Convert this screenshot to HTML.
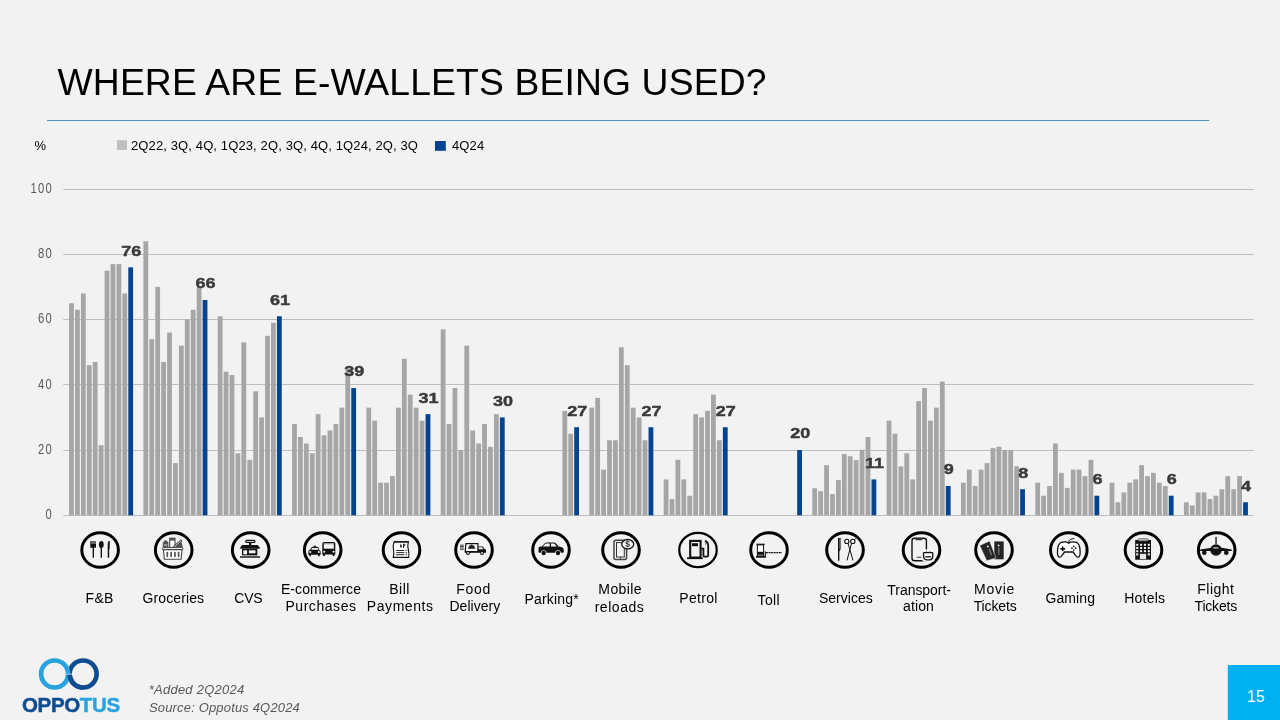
<!DOCTYPE html>
<html><head><meta charset="utf-8"><title>Where are e-wallets being used?</title>
<style>
html,body{margin:0;padding:0;background:#F2F2F2;}
body{width:1280px;height:720px;overflow:hidden;}
svg{display:block;will-change:transform;}
text{font-family:"Liberation Sans",Arial,sans-serif;}
.ax{font-size:14px;fill:#595959;letter-spacing:1.6px;}
.dl{font-size:15.4px;font-weight:bold;fill:#3A3A3A;stroke:#3A3A3A;stroke-width:0.45px;}
.cl{font-size:14px;fill:#000;letter-spacing:0.22px;}
.lg{font-size:13px;fill:#000;letter-spacing:0.12px;}
</style></head>
<body>
<svg width="1280" height="720" viewBox="0 0 1280 720">
<rect x="0" y="0" width="1280" height="720" fill="#F2F2F2"/>
<text x="57.5" y="95.3" font-size="37.3" letter-spacing="0.12" fill="#000">WHERE ARE E-WALLETS BEING USED?</text>
<line x1="47" y1="120.5" x2="1209.2" y2="120.5" stroke="#4C97C2" stroke-width="1"/>
<text x="34.5" y="149.8" class="lg">%</text>
<rect x="117" y="140.2" width="10" height="9.8" fill="#BFBFBF"/>
<text x="131" y="149.7" class="lg">2Q22, 3Q, 4Q, 1Q23, 2Q, 3Q, 4Q, 1Q24, 2Q, 3Q</text>
<rect x="435" y="141" width="10.8" height="9.8" fill="#03438F"/>
<text x="452" y="149.7" class="lg">4Q24</text>
<line x1="63.3" y1="515.5" x2="1253.9" y2="515.5" stroke="#BEBEBE" stroke-width="1"/>
<text transform="translate(52.9,519.1) scale(0.8,1)" class="ax" text-anchor="end">0</text>
<line x1="63.3" y1="450.5" x2="1253.9" y2="450.5" stroke="#BEBEBE" stroke-width="1"/>
<text transform="translate(52.9,453.85) scale(0.8,1)" class="ax" text-anchor="end">20</text>
<line x1="63.3" y1="384.5" x2="1253.9" y2="384.5" stroke="#BEBEBE" stroke-width="1"/>
<text transform="translate(52.9,388.6) scale(0.8,1)" class="ax" text-anchor="end">40</text>
<line x1="63.3" y1="319.5" x2="1253.9" y2="319.5" stroke="#BEBEBE" stroke-width="1"/>
<text transform="translate(52.9,323.35) scale(0.8,1)" class="ax" text-anchor="end">60</text>
<line x1="63.3" y1="254.5" x2="1253.9" y2="254.5" stroke="#BEBEBE" stroke-width="1"/>
<text transform="translate(52.9,258.1) scale(0.8,1)" class="ax" text-anchor="end">80</text>
<line x1="63.3" y1="189.5" x2="1253.9" y2="189.5" stroke="#BEBEBE" stroke-width="1"/>
<text transform="translate(52.9,192.85) scale(0.8,1)" class="ax" text-anchor="end">100</text>
<rect x="69.1" y="303.24" width="4.8" height="212.06" fill="#A6A6A6"/>
<rect x="75.02" y="309.76" width="4.8" height="205.54" fill="#A6A6A6"/>
<rect x="80.94" y="293.45" width="4.8" height="221.85" fill="#A6A6A6"/>
<rect x="86.86" y="365.22" width="4.8" height="150.08" fill="#A6A6A6"/>
<rect x="92.78" y="361.96" width="4.8" height="153.34" fill="#A6A6A6"/>
<rect x="98.7" y="445.16" width="4.8" height="70.14" fill="#A6A6A6"/>
<rect x="104.62" y="270.61" width="4.8" height="244.69" fill="#A6A6A6"/>
<rect x="110.54" y="264.09" width="4.8" height="251.21" fill="#A6A6A6"/>
<rect x="116.46" y="264.09" width="4.8" height="251.21" fill="#A6A6A6"/>
<rect x="122.38" y="293.45" width="4.8" height="221.85" fill="#A6A6A6"/>
<rect x="128.3" y="267.35" width="4.8" height="247.95" fill="#03438F"/>
<text transform="translate(131.3,255.75) scale(1.17,1)" class="dl" text-anchor="middle">76</text>
<rect x="143.42" y="241.25" width="4.8" height="274.05" fill="#A6A6A6"/>
<rect x="149.34" y="339.12" width="4.8" height="176.18" fill="#A6A6A6"/>
<rect x="155.26" y="286.92" width="4.8" height="228.38" fill="#A6A6A6"/>
<rect x="161.18" y="361.96" width="4.8" height="153.34" fill="#A6A6A6"/>
<rect x="167.1" y="332.6" width="4.8" height="182.7" fill="#A6A6A6"/>
<rect x="173.02" y="463.1" width="4.8" height="52.2" fill="#A6A6A6"/>
<rect x="178.94" y="345.65" width="4.8" height="169.65" fill="#A6A6A6"/>
<rect x="184.86" y="319.55" width="4.8" height="195.75" fill="#A6A6A6"/>
<rect x="190.78" y="309.76" width="4.8" height="205.54" fill="#A6A6A6"/>
<rect x="196.7" y="286.92" width="4.8" height="228.38" fill="#A6A6A6"/>
<rect x="202.62" y="299.97" width="4.8" height="215.33" fill="#03438F"/>
<text transform="translate(205.62,288.37) scale(1.17,1)" class="dl" text-anchor="middle">66</text>
<rect x="217.74" y="316.29" width="4.8" height="199.01" fill="#A6A6A6"/>
<rect x="223.66" y="371.75" width="4.8" height="143.55" fill="#A6A6A6"/>
<rect x="229.58" y="375.01" width="4.8" height="140.29" fill="#A6A6A6"/>
<rect x="235.5" y="453.31" width="4.8" height="61.99" fill="#A6A6A6"/>
<rect x="241.42" y="342.39" width="4.8" height="172.91" fill="#A6A6A6"/>
<rect x="247.34" y="459.84" width="4.8" height="55.46" fill="#A6A6A6"/>
<rect x="253.26" y="391.32" width="4.8" height="123.98" fill="#A6A6A6"/>
<rect x="259.18" y="417.42" width="4.8" height="97.88" fill="#A6A6A6"/>
<rect x="265.1" y="335.86" width="4.8" height="179.44" fill="#A6A6A6"/>
<rect x="271.02" y="322.81" width="4.8" height="192.49" fill="#A6A6A6"/>
<rect x="276.94" y="316.29" width="4.8" height="199.01" fill="#03438F"/>
<text transform="translate(279.94,304.69) scale(1.17,1)" class="dl" text-anchor="middle">61</text>
<rect x="292.06" y="423.95" width="4.8" height="91.35" fill="#A6A6A6"/>
<rect x="297.98" y="437" width="4.8" height="78.3" fill="#A6A6A6"/>
<rect x="303.9" y="443.52" width="4.8" height="71.78" fill="#A6A6A6"/>
<rect x="309.82" y="453.31" width="4.8" height="61.99" fill="#A6A6A6"/>
<rect x="315.74" y="414.16" width="4.8" height="101.14" fill="#A6A6A6"/>
<rect x="321.66" y="435.37" width="4.8" height="79.93" fill="#A6A6A6"/>
<rect x="327.58" y="430.47" width="4.8" height="84.83" fill="#A6A6A6"/>
<rect x="333.5" y="423.95" width="4.8" height="91.35" fill="#A6A6A6"/>
<rect x="339.42" y="407.64" width="4.8" height="107.66" fill="#A6A6A6"/>
<rect x="345.34" y="368.49" width="4.8" height="146.81" fill="#A6A6A6"/>
<rect x="351.26" y="388.06" width="4.8" height="127.24" fill="#03438F"/>
<text transform="translate(354.26,376.46) scale(1.17,1)" class="dl" text-anchor="middle">39</text>
<rect x="366.38" y="407.64" width="4.8" height="107.66" fill="#A6A6A6"/>
<rect x="372.3" y="420.69" width="4.8" height="94.61" fill="#A6A6A6"/>
<rect x="378.22" y="482.67" width="4.8" height="32.62" fill="#A6A6A6"/>
<rect x="384.14" y="482.67" width="4.8" height="32.62" fill="#A6A6A6"/>
<rect x="390.06" y="476.15" width="4.8" height="39.15" fill="#A6A6A6"/>
<rect x="395.98" y="407.64" width="4.8" height="107.66" fill="#A6A6A6"/>
<rect x="401.9" y="358.7" width="4.8" height="156.6" fill="#A6A6A6"/>
<rect x="407.82" y="394.59" width="4.8" height="120.71" fill="#A6A6A6"/>
<rect x="413.74" y="407.64" width="4.8" height="107.66" fill="#A6A6A6"/>
<rect x="419.66" y="420.69" width="4.8" height="94.61" fill="#A6A6A6"/>
<rect x="425.58" y="414.16" width="4.8" height="101.14" fill="#03438F"/>
<text transform="translate(428.58,402.56) scale(1.17,1)" class="dl" text-anchor="middle">31</text>
<rect x="440.7" y="329.34" width="4.8" height="185.96" fill="#A6A6A6"/>
<rect x="446.62" y="423.95" width="4.8" height="91.35" fill="#A6A6A6"/>
<rect x="452.54" y="388.06" width="4.8" height="127.24" fill="#A6A6A6"/>
<rect x="458.46" y="450.05" width="4.8" height="65.25" fill="#A6A6A6"/>
<rect x="464.38" y="345.65" width="4.8" height="169.65" fill="#A6A6A6"/>
<rect x="470.3" y="430.47" width="4.8" height="84.83" fill="#A6A6A6"/>
<rect x="476.22" y="443.52" width="4.8" height="71.78" fill="#A6A6A6"/>
<rect x="482.14" y="423.95" width="4.8" height="91.35" fill="#A6A6A6"/>
<rect x="488.06" y="446.79" width="4.8" height="68.51" fill="#A6A6A6"/>
<rect x="493.98" y="414.16" width="4.8" height="101.14" fill="#A6A6A6"/>
<rect x="499.9" y="417.42" width="4.8" height="97.88" fill="#03438F"/>
<text transform="translate(502.9,405.82) scale(1.17,1)" class="dl" text-anchor="middle">30</text>
<rect x="562.38" y="410.9" width="4.8" height="104.4" fill="#A6A6A6"/>
<rect x="568.3" y="433.74" width="4.8" height="81.56" fill="#A6A6A6"/>
<rect x="574.22" y="427.21" width="4.8" height="88.09" fill="#03438F"/>
<text transform="translate(577.22,415.61) scale(1.17,1)" class="dl" text-anchor="middle">27</text>
<rect x="589.34" y="407.64" width="4.8" height="107.66" fill="#A6A6A6"/>
<rect x="595.26" y="397.85" width="4.8" height="117.45" fill="#A6A6A6"/>
<rect x="601.18" y="469.62" width="4.8" height="45.68" fill="#A6A6A6"/>
<rect x="607.1" y="440.26" width="4.8" height="75.04" fill="#A6A6A6"/>
<rect x="613.02" y="440.26" width="4.8" height="75.04" fill="#A6A6A6"/>
<rect x="618.94" y="347.28" width="4.8" height="168.02" fill="#A6A6A6"/>
<rect x="624.86" y="365.22" width="4.8" height="150.08" fill="#A6A6A6"/>
<rect x="630.78" y="407.64" width="4.8" height="107.66" fill="#A6A6A6"/>
<rect x="636.7" y="417.42" width="4.8" height="97.88" fill="#A6A6A6"/>
<rect x="642.62" y="440.26" width="4.8" height="75.04" fill="#A6A6A6"/>
<rect x="648.54" y="427.21" width="4.8" height="88.09" fill="#03438F"/>
<text transform="translate(651.54,415.61) scale(1.17,1)" class="dl" text-anchor="middle">27</text>
<rect x="663.66" y="479.41" width="4.8" height="35.89" fill="#A6A6A6"/>
<rect x="669.58" y="498.99" width="4.8" height="16.31" fill="#A6A6A6"/>
<rect x="675.5" y="459.84" width="4.8" height="55.46" fill="#A6A6A6"/>
<rect x="681.42" y="479.41" width="4.8" height="35.89" fill="#A6A6A6"/>
<rect x="687.34" y="495.72" width="4.8" height="19.58" fill="#A6A6A6"/>
<rect x="693.26" y="414.16" width="4.8" height="101.14" fill="#A6A6A6"/>
<rect x="699.18" y="417.42" width="4.8" height="97.88" fill="#A6A6A6"/>
<rect x="705.1" y="410.9" width="4.8" height="104.4" fill="#A6A6A6"/>
<rect x="711.02" y="394.59" width="4.8" height="120.71" fill="#A6A6A6"/>
<rect x="716.94" y="440.26" width="4.8" height="75.04" fill="#A6A6A6"/>
<rect x="722.86" y="427.21" width="4.8" height="88.09" fill="#03438F"/>
<text transform="translate(725.86,415.61) scale(1.17,1)" class="dl" text-anchor="middle">27</text>
<rect x="797.18" y="450.05" width="4.8" height="65.25" fill="#03438F"/>
<text transform="translate(800.18,438.45) scale(1.17,1)" class="dl" text-anchor="middle">20</text>
<rect x="812.3" y="488.22" width="4.8" height="27.08" fill="#A6A6A6"/>
<rect x="818.22" y="491.16" width="4.8" height="24.14" fill="#A6A6A6"/>
<rect x="824.14" y="465.06" width="4.8" height="50.24" fill="#A6A6A6"/>
<rect x="830.06" y="494.09" width="4.8" height="21.21" fill="#A6A6A6"/>
<rect x="835.98" y="480.06" width="4.8" height="35.24" fill="#A6A6A6"/>
<rect x="841.9" y="453.96" width="4.8" height="61.34" fill="#A6A6A6"/>
<rect x="847.82" y="456.25" width="4.8" height="59.05" fill="#A6A6A6"/>
<rect x="853.74" y="460.16" width="4.8" height="55.14" fill="#A6A6A6"/>
<rect x="859.66" y="449.72" width="4.8" height="65.58" fill="#A6A6A6"/>
<rect x="865.58" y="437" width="4.8" height="78.3" fill="#A6A6A6"/>
<rect x="871.5" y="479.41" width="4.8" height="35.89" fill="#03438F"/>
<text transform="translate(874.5,467.81) scale(1.17,1)" class="dl" text-anchor="middle">11</text>
<rect x="886.62" y="420.69" width="4.8" height="94.61" fill="#A6A6A6"/>
<rect x="892.54" y="433.74" width="4.8" height="81.56" fill="#A6A6A6"/>
<rect x="898.46" y="466.36" width="4.8" height="48.94" fill="#A6A6A6"/>
<rect x="904.38" y="453.31" width="4.8" height="61.99" fill="#A6A6A6"/>
<rect x="910.3" y="479.41" width="4.8" height="35.89" fill="#A6A6A6"/>
<rect x="916.22" y="401.11" width="4.8" height="114.19" fill="#A6A6A6"/>
<rect x="922.14" y="388.06" width="4.8" height="127.24" fill="#A6A6A6"/>
<rect x="928.06" y="420.69" width="4.8" height="94.61" fill="#A6A6A6"/>
<rect x="933.98" y="407.64" width="4.8" height="107.66" fill="#A6A6A6"/>
<rect x="939.9" y="381.54" width="4.8" height="133.76" fill="#A6A6A6"/>
<rect x="945.82" y="485.94" width="4.8" height="29.36" fill="#03438F"/>
<text transform="translate(948.82,474.34) scale(1.17,1)" class="dl" text-anchor="middle">9</text>
<rect x="960.94" y="482.67" width="4.8" height="32.62" fill="#A6A6A6"/>
<rect x="966.86" y="469.62" width="4.8" height="45.68" fill="#A6A6A6"/>
<rect x="972.78" y="485.94" width="4.8" height="29.36" fill="#A6A6A6"/>
<rect x="978.7" y="469.62" width="4.8" height="45.68" fill="#A6A6A6"/>
<rect x="984.62" y="463.1" width="4.8" height="52.2" fill="#A6A6A6"/>
<rect x="990.54" y="448.09" width="4.8" height="67.21" fill="#A6A6A6"/>
<rect x="996.46" y="446.79" width="4.8" height="68.51" fill="#A6A6A6"/>
<rect x="1002.38" y="450.05" width="4.8" height="65.25" fill="#A6A6A6"/>
<rect x="1008.3" y="450.05" width="4.8" height="65.25" fill="#A6A6A6"/>
<rect x="1014.22" y="466.36" width="4.8" height="48.94" fill="#A6A6A6"/>
<rect x="1020.14" y="489.2" width="4.8" height="26.1" fill="#03438F"/>
<text transform="translate(1023.14,477.6) scale(1.17,1)" class="dl" text-anchor="middle">8</text>
<rect x="1035.26" y="482.67" width="4.8" height="32.62" fill="#A6A6A6"/>
<rect x="1041.18" y="495.72" width="4.8" height="19.58" fill="#A6A6A6"/>
<rect x="1047.1" y="485.94" width="4.8" height="29.36" fill="#A6A6A6"/>
<rect x="1053.02" y="443.52" width="4.8" height="71.78" fill="#A6A6A6"/>
<rect x="1058.94" y="472.89" width="4.8" height="42.41" fill="#A6A6A6"/>
<rect x="1064.86" y="487.89" width="4.8" height="27.41" fill="#A6A6A6"/>
<rect x="1070.78" y="469.62" width="4.8" height="45.68" fill="#A6A6A6"/>
<rect x="1076.7" y="469.62" width="4.8" height="45.68" fill="#A6A6A6"/>
<rect x="1082.62" y="476.15" width="4.8" height="39.15" fill="#A6A6A6"/>
<rect x="1088.54" y="459.84" width="4.8" height="55.46" fill="#A6A6A6"/>
<rect x="1094.46" y="495.72" width="4.8" height="19.58" fill="#03438F"/>
<text transform="translate(1097.46,484.12) scale(1.17,1)" class="dl" text-anchor="middle">6</text>
<rect x="1109.58" y="482.67" width="4.8" height="32.62" fill="#A6A6A6"/>
<rect x="1115.5" y="502.25" width="4.8" height="13.05" fill="#A6A6A6"/>
<rect x="1121.42" y="492.46" width="4.8" height="22.84" fill="#A6A6A6"/>
<rect x="1127.34" y="482.67" width="4.8" height="32.62" fill="#A6A6A6"/>
<rect x="1133.26" y="479.41" width="4.8" height="35.89" fill="#A6A6A6"/>
<rect x="1139.18" y="465.06" width="4.8" height="50.24" fill="#A6A6A6"/>
<rect x="1145.1" y="476.15" width="4.8" height="39.15" fill="#A6A6A6"/>
<rect x="1151.02" y="472.89" width="4.8" height="42.41" fill="#A6A6A6"/>
<rect x="1156.94" y="482.67" width="4.8" height="32.62" fill="#A6A6A6"/>
<rect x="1162.86" y="485.94" width="4.8" height="29.36" fill="#A6A6A6"/>
<rect x="1168.78" y="495.72" width="4.8" height="19.58" fill="#03438F"/>
<text transform="translate(1171.78,484.12) scale(1.17,1)" class="dl" text-anchor="middle">6</text>
<rect x="1183.9" y="502.25" width="4.8" height="13.05" fill="#A6A6A6"/>
<rect x="1189.82" y="505.51" width="4.8" height="9.79" fill="#A6A6A6"/>
<rect x="1195.74" y="492.46" width="4.8" height="22.84" fill="#A6A6A6"/>
<rect x="1201.66" y="492.46" width="4.8" height="22.84" fill="#A6A6A6"/>
<rect x="1207.58" y="498.99" width="4.8" height="16.31" fill="#A6A6A6"/>
<rect x="1213.5" y="495.72" width="4.8" height="19.58" fill="#A6A6A6"/>
<rect x="1219.42" y="489.2" width="4.8" height="26.1" fill="#A6A6A6"/>
<rect x="1225.34" y="476.15" width="4.8" height="39.15" fill="#A6A6A6"/>
<rect x="1231.26" y="489.2" width="4.8" height="26.1" fill="#A6A6A6"/>
<rect x="1237.18" y="476.15" width="4.8" height="39.15" fill="#A6A6A6"/>
<rect x="1243.1" y="502.25" width="4.8" height="13.05" fill="#03438F"/>
<text transform="translate(1246.1,490.65) scale(1.17,1)" class="dl" text-anchor="middle">4</text>
<g transform="translate(100.1,550)"><ellipse cx="0" cy="0" rx="18.3" ry="17.3" fill="none" stroke="#000" stroke-width="3"/>
<rect x="-9.8" y="-9" width="5.7" height="6.7" fill="#111"/>
<rect x="-9.8" y="-9" width="5.7" height="3" fill="#666"/>
<rect x="-7.5" y="-3" width="1.4" height="10.7" fill="#111"/>
<ellipse cx="1.2" cy="-5.6" rx="2.4" ry="3.5" fill="#111"/>
<rect x="0.5" y="-3" width="1.4" height="10.7" fill="#111"/>
<path d="M7.6,7.7 L7.6,-6.5 Q7.8,-9.3 9.3,-9.3 L9.6,-9 L9.6,-1.5 L9.1,-0.5 L9.1,7.7 Z" fill="#111"/>
</g>
<g transform="translate(173.7,550)"><ellipse cx="0" cy="0" rx="18.3" ry="17.3" fill="none" stroke="#000" stroke-width="3"/>
<path d="M-10.4,-7.5 L-9,-9.2 L-7.2,-9.2 L-5.8,-7.5 L-5.6,-2.5 L-10.6,-2.5 Z" fill="#555" stroke="#333" stroke-width="0.6"/>
<rect x="-9.6" y="-6" width="3.2" height="2.2" fill="#999"/>
<path d="M3,-6.5 L7.6,-8 L9.3,-2.5 L3,-2.5 Z" fill="#555"/>
<rect x="-4" y="-11.8" width="5.3" height="9.5" fill="#fff" stroke="#444" stroke-width="1.1"/>
<rect x="-4" y="-11.8" width="5.3" height="2.4" fill="#555"/>
<path d="M-1,-1.5 L7.3,-9.2" stroke="#333" stroke-width="2.4" stroke-linecap="round"/>
<path d="M-1,-1.5 L7.3,-9.2" stroke="#fff" stroke-width="0.9" stroke-linecap="round"/>
<rect x="-11.4" y="-2.4" width="20.7" height="2" rx="1" fill="#fff" stroke="#444" stroke-width="1"/>
<path d="M-10.3,-0.4 L8.3,-0.4 L7.4,9.3 L-9.3,9.3 Z" fill="#fff" stroke="#444" stroke-width="1.1"/>
<rect x="-7.3" y="1.8" width="1.8" height="5.4" rx="0.9" fill="#555"/>
<rect x="-3.5" y="1.8" width="1.8" height="5.4" rx="0.9" fill="#555"/>
<rect x="0.3" y="1.8" width="1.8" height="5.4" rx="0.9" fill="#555"/>
<rect x="4.0" y="1.8" width="1.8" height="5.4" rx="0.9" fill="#555"/>
</g>
<g transform="translate(250.7,550)"><ellipse cx="0" cy="0" rx="18.3" ry="17.3" fill="none" stroke="#000" stroke-width="3"/>
<rect x="-5" y="-9.6" width="9.3" height="2" rx="1" fill="#fff" stroke="#111" stroke-width="1.1"/>
<rect x="-1.8" y="-7.6" width="2.4" height="3" fill="#111"/>
<path d="M-8.5,-5 L7,-5 L9.3,-2 L-10.7,-2 Z" fill="#111"/>
<path d="M-10.5,-2 L9.1,-2 L9.1,-1 L-10.5,-1 Z" fill="#444"/>
<rect x="-8.7" y="-1" width="15.3" height="6.4" fill="#111"/>
<rect x="-7.4" y="0.3" width="3.8" height="4" fill="#f4f4f4"/>
<rect x="-1.8" y="0.3" width="6.6" height="3" fill="#f4f4f4"/>
<rect x="-10.7" y="6.3" width="20" height="1.4" fill="#111"/>
</g>
<g transform="translate(322.7,550)"><ellipse cx="0" cy="0" rx="18.3" ry="17.3" fill="none" stroke="#000" stroke-width="3"/>
<path d="M-14.4,4.8 L-14.4,2 Q-14.4,0.3 -13,0 L-11.3,-2.6 Q-10.8,-3.2 -9.8,-3.2 L-5.6,-3.2 Q-4.6,-3.2 -4.1,-2.6 L-3.4,0 Q-2,0.3 -2,2 L-2,4.8 L-3,4.8 L-3,6.3 L-4.7,6.3 L-4.7,4.8 L-11.7,4.8 L-11.7,6.3 L-13.4,6.3 L-13.4,4.8 Z" fill="#111"/>
<rect x="-8.9" y="-4.4" width="2" height="1.3" fill="#111"/>
<path d="M-11.6,-0.2 L-10.6,-2 L-4.9,-2 L-3.9,-0.2 Z" fill="#f4f4f4"/>
<circle cx="-12.4" cy="2" r="1.05" fill="#f4f4f4"/>
<circle cx="-3.9" cy="2" r="1.05" fill="#f4f4f4"/>
<path d="M-0.4,-6.5 Q-0.4,-8 1.5,-8 L10.7,-8 Q12.6,-8 12.6,-6.5 L12.6,4.5 L11.8,4.5 L11.8,6 L10,6 L10,4.5 L2.2,4.5 L2.2,6 L0.4,6 L0.4,4.5 L-0.4,4.5 Z" fill="#111"/>
<rect x="1.1" y="-6.9" width="10" height="5.6" fill="#f4f4f4"/>
<rect x="1.1" y="-7" width="10" height="1.3" fill="#999"/>
<circle cx="1.6" cy="1.7" r="1.05" fill="#f4f4f4"/>
<circle cx="10.8" cy="1.7" r="1.05" fill="#f4f4f4"/>
</g>
<g transform="translate(401.5,550)"><ellipse cx="0" cy="0" rx="18.3" ry="17.3" fill="none" stroke="#000" stroke-width="3"/>
<path d="M-7.5,-8 L6.8,-8 Q5.8,-4.5 6.8,-0.5 Q7.8,3.5 7.2,7.4 L-8.2,7.4 Q-7.2,3.5 -8,-0.5 Q-8.8,-4.5 -7.5,-8 Z" fill="#fff" stroke="#111" stroke-width="1.1"/>
<rect x="-7.6" y="-8.9" width="15" height="1.3" fill="#111"/>
<path d="M-0.6,-6.6 Q-1.8,-4 -1.3,-3 Q-0.6,-1.8 0.2,-3 Q0.6,-4 -0.6,-6.6 Z" fill="#111"/>
<path d="M2,-2 L2,-5.8 L3.2,-5.8 Q4,-5 3.2,-4.2 L2,-4.2" fill="none" stroke="#111" stroke-width="0.9"/>
<rect x="-5.3" y="0.1" width="8" height="0.9" fill="#111"/>
<rect x="4" y="0.1" width="1.4" height="0.9" fill="#111"/>
<rect x="-5.3" y="2.2" width="8" height="0.9" fill="#111"/>
<rect x="4" y="2.2" width="1.4" height="0.9" fill="#111"/>
<rect x="-5.3" y="4.3" width="8" height="0.9" fill="#111"/>
<rect x="4" y="4.3" width="1.4" height="0.9" fill="#111"/>
</g>
<g transform="translate(474,550)"><ellipse cx="0" cy="0" rx="18.3" ry="17.3" fill="none" stroke="#000" stroke-width="3"/>
<rect x="-14" y="-5.3" width="3.8" height="0.9" fill="#333"/>
<rect x="-14" y="-3.9" width="3.8" height="0.9" fill="#333"/>
<rect x="-14" y="-2.5" width="3.8" height="0.9" fill="#333"/>
<rect x="-14" y="-1.1" width="3.8" height="0.9" fill="#333"/>
<path d="M-8.1,-6.4 L3.9,-6.4 L3.9,1.6 L-8.8,1.6 Z" fill="#fff" stroke="#111" stroke-width="1.2"/>
<path d="M-5.5,-2 Q-5.5,-4.9 -2.3,-4.9 Q0.9,-4.9 0.9,-2 Z" fill="#222"/>
<rect x="-6" y="-2" width="7.4" height="0.8" fill="#222"/>
<rect x="-2.8" y="-5.6" width="1" height="0.8" fill="#222"/>
<path d="M3.9,-3.6 L8.7,-3.6 L10.9,-0.7 L12,-0.4 L12,2.7 L-9,2.7 L-9,1.2 L3.9,1.2 Z" fill="#111"/>
<path d="M4.7,-2.8 L8,-2.8 L9.5,-0.7 L4.7,-0.7 Z" fill="#f4f4f4"/>
<circle cx="-6" cy="3" r="2" fill="#111"/>
<circle cx="-6" cy="3" r="0.9" fill="#f4f4f4"/>
<circle cx="8" cy="3" r="2" fill="#111"/>
<circle cx="8" cy="3" r="0.9" fill="#f4f4f4"/>
</g>
<g transform="translate(551,550)"><ellipse cx="0" cy="0" rx="18.3" ry="17.3" fill="none" stroke="#000" stroke-width="3"/>
<path d="M-12.5,2 L-12.5,-1.5 Q-12.5,-3.5 -10.5,-3.5 L-9.3,-3.5 L-6,-7 Q-5.3,-7.6 -4.3,-7.6 L2.8,-7.6 Q4,-7.6 4.6,-7 L7.6,-3.5 L10.2,-3 Q12.8,-2.5 12.8,0 L12.8,1.5 Q12.8,2.7 11.5,2.7 L-11.3,2.7 Q-12.5,2.7 -12.5,2 Z" fill="#111"/>
<path d="M-8.3,-3.5 L-5.4,-6.4 L-1.3,-6.4 L-1.3,-3.5 Z" fill="#f4f4f4"/>
<path d="M0,-6.4 L3.2,-6.4 L5.8,-3.5 L0,-3.5 Z" fill="#f4f4f4"/>
<circle cx="-7.3" cy="3" r="2.8" fill="#f4f4f4"/>
<circle cx="-7.3" cy="3" r="2.2" fill="#111"/>
<circle cx="7" cy="3" r="2.8" fill="#f4f4f4"/>
<circle cx="7" cy="3" r="2.2" fill="#111"/>
</g>
<g transform="translate(621,550)"><ellipse cx="0" cy="0" rx="18.3" ry="17.3" fill="none" stroke="#000" stroke-width="3"/>
<rect x="-7" y="-9.8" width="12.6" height="19.2" rx="2" fill="none" stroke="#444" stroke-width="1.5"/>
<rect x="-4.5" y="-7.4" width="7.8" height="14.4" fill="#f4f4f4" stroke="#333" stroke-width="1"/>
<rect x="-0.9" y="7" width="0.9" height="2.3" fill="#333"/>
<ellipse cx="6.7" cy="-5.8" rx="6" ry="4.7" fill="#f4f4f4" stroke="#111" stroke-width="1.3"/>
<text x="6.7" y="-3" font-size="8.5" font-weight="bold" text-anchor="middle" fill="#333" font-family="Liberation Sans, sans-serif">$</text>
</g>
<g transform="translate(698,550)"><ellipse cx="0" cy="0" rx="18.75" ry="17.1" fill="none" stroke="#000" stroke-width="2.2"/>
<rect x="-7.8" y="-9.1" width="10.4" height="16.7" fill="none" stroke="#111" stroke-width="2.1"/>
<rect x="-6" y="-6.8" width="6" height="3" fill="#111"/>
<rect x="-11" y="7.4" width="15.8" height="1.7" fill="#111"/>
<path d="M3.2,-1.3 L5.4,-1.3 L5.4,5.2 Q5.4,6.7 6.9,6.7 L8.7,6.7 Q10.2,6.7 10.2,5.2 L10.2,-4.8 Q10.2,-6.8 8.6,-8.2 L7.2,-9.5" fill="none" stroke="#111" stroke-width="1.8"/>
<path d="M7,-7.4 L8.1,-6.3 L7.3,-5.6" fill="none" stroke="#111" stroke-width="0.9"/>
</g>
<g transform="translate(769,550)"><ellipse cx="0" cy="0" rx="18.3" ry="17.3" fill="none" stroke="#000" stroke-width="3"/>
<rect x="-12.7" y="-6.3" width="8.4" height="1.2" fill="#111"/>
<rect x="-11.6" y="-5.1" width="6.2" height="11" fill="#fff" stroke="#111" stroke-width="1"/>
<rect x="-11.6" y="1.8" width="6.2" height="3" fill="#111"/>
<rect x="-13" y="6" width="9.3" height="1.7" fill="#111"/>
<rect x="-4.2" y="1.3" width="1.1" height="6.4" fill="#111"/>
<line x1="-3.1" y1="2.7" x2="13" y2="2.7" stroke="#111" stroke-width="1.2" stroke-dasharray="2,0.6"/>
</g>
<g transform="translate(845,550)"><ellipse cx="0" cy="0" rx="18.3" ry="17.3" fill="none" stroke="#000" stroke-width="3"/>
<path d="M-7,-12 L-4.3,-12 L-4.3,-1 Q-5.2,0.5 -5.6,1.5 L-5.6,10.7 L-7,10.7 Z" fill="#111"/>
<rect x="-5.7" y="-11.4" width="1.8" height="10.4" fill="#777"/>
<circle cx="1.8" cy="-8.6" r="2.1" fill="#fff" stroke="#111" stroke-width="1.1"/>
<circle cx="7.8" cy="-8.6" r="2.1" fill="#fff" stroke="#111" stroke-width="1.1"/>
<line x1="3" y1="-6.8" x2="8" y2="10.4" stroke="#111" stroke-width="1"/>
<line x1="6.6" y1="-6.8" x2="2" y2="10.4" stroke="#111" stroke-width="1"/>
<line x1="9.3" y1="-10.3" x2="11.3" y2="-12" stroke="#111" stroke-width="0.8"/>
</g>
<g transform="translate(921.5,550)"><ellipse cx="0" cy="0" rx="18.3" ry="17.3" fill="none" stroke="#000" stroke-width="3"/>
<rect x="-9.5" y="-11.8" width="14.4" height="22.5" rx="2.5" fill="none" stroke="#111" stroke-width="1.4"/>
<path d="M-5.9,-12 L1.4,-12 L0.8,-10.3 Q0.5,-9.8 -0.2,-9.8 L-5,-9.8 Q-5.6,-9.8 -5.9,-10.3 Z" fill="#333"/>
<rect x="-4.7" y="6.7" width="4.5" height="1" fill="#333"/>
<rect x="1" y="-0.6" width="12" height="12" fill="#f2f2f2"/>
<path d="M2,3.4 Q2,2.7 2.7,2.7 L10.6,2.7 Q11.3,2.7 11.3,3.4 L11.2,6.6 Q11,9.8 8,9.8 L5.3,9.8 Q2.2,9.8 2.1,6.6 Z" fill="#fff" stroke="#111" stroke-width="1.3"/>
<rect x="4.4" y="1.2" width="1.1" height="1.8" rx="0.5" fill="#111"/>
<rect x="7.7" y="1.2" width="1.1" height="1.8" rx="0.5" fill="#111"/>
<rect x="3.8" y="6.1" width="5.6" height="1.4" fill="#222"/>
</g>
<g transform="translate(994,550)"><ellipse cx="0" cy="0" rx="18.3" ry="17.3" fill="none" stroke="#000" stroke-width="3"/>
<rect x="0.3" y="-8.6" width="9.4" height="17.9" fill="#252525"/>
<circle cx="4.6" cy="-4.5" r="0.9" fill="#eee"/>
<line x1="4.8" y1="-2.3" x2="4.8" y2="4.7" stroke="#7a7a7a" stroke-width="1.3"/>
<path d="M-14.3,-4.5 L-4.4,-8.9 L2.1,8.1 L-7.3,10.7 Z" fill="#252525" stroke="#f2f2f2" stroke-width="0.5" stroke-linejoin="round"/>
<circle cx="-6.2" cy="-3.5" r="0.9" fill="#eee"/>
<line x1="-4.9" y1="-1.2" x2="-2.4" y2="5.2" stroke="#7a7a7a" stroke-width="1.3"/>
</g>
<g transform="translate(1068.8,550)"><ellipse cx="0" cy="0" rx="18.3" ry="17.3" fill="none" stroke="#000" stroke-width="3"/>
<path d="M-8,-7.5 Q-2.5,-9 0,-6.8 Q2.5,-9 8,-7.5 Q11,-6 11.3,1 Q11.6,6.5 9.5,7.2 Q8,7.4 6.5,5 L4.3,2 L-4.3,2 L-6.5,5 Q-8,7.4 -9.5,7.2 Q-11.6,6.5 -11.3,1 Q-11,-6 -8,-7.5 Z" fill="#fff" stroke="#111" stroke-width="1.3"/>
<path d="M-6.9,-3.5 L-5.3,-3.5 L-5.3,-1.9 L-3.7,-1.9 L-3.7,-0.3 L-5.3,-0.3 L-5.3,1.3 L-6.9,1.3 L-6.9,-0.3 L-8.5,-0.3 L-8.5,-1.9 L-6.9,-1.9 Z" fill="#111"/>
<circle cx="5" cy="-3.7" r="0.85" fill="#111"/>
<circle cx="5" cy="0" r="0.85" fill="#111"/>
<circle cx="3.2" cy="-1.8" r="0.85" fill="#111"/>
<circle cx="6.8" cy="-1.8" r="0.85" fill="#111"/>
<path d="M0,-7.2 Q-0.5,-9.5 1.5,-10.5 Q3.5,-11.5 5.5,-11.5" fill="none" stroke="#111" stroke-width="1"/>
</g>
<g transform="translate(1143.5,550)"><ellipse cx="0" cy="0" rx="18.3" ry="17.3" fill="none" stroke="#000" stroke-width="3"/>
<rect x="-8.3" y="-10" width="15.8" height="19.7" fill="#111"/>
<rect x="-5.5" y="-11.3" width="10.2" height="2.3" rx="1" fill="#bbb" stroke="#444" stroke-width="0.6"/>
<rect x="-7.30" y="-6.20" width="2.1" height="2" fill="#f4f4f4"/><rect x="-3.45" y="-6.20" width="2.1" height="2" fill="#f4f4f4"/><rect x="0.40" y="-6.20" width="2.1" height="2" fill="#f4f4f4"/><rect x="4.25" y="-6.20" width="2.1" height="2" fill="#f4f4f4"/><rect x="-7.30" y="-3.00" width="2.1" height="2" fill="#f4f4f4"/><rect x="-3.45" y="-3.00" width="2.1" height="2" fill="#f4f4f4"/><rect x="0.40" y="-3.00" width="2.1" height="2" fill="#f4f4f4"/><rect x="4.25" y="-3.00" width="2.1" height="2" fill="#f4f4f4"/><rect x="-7.30" y="0.20" width="2.1" height="2" fill="#f4f4f4"/><rect x="-3.45" y="0.20" width="2.1" height="2" fill="#f4f4f4"/><rect x="0.40" y="0.20" width="2.1" height="2" fill="#f4f4f4"/><rect x="4.25" y="0.20" width="2.1" height="2" fill="#f4f4f4"/><rect x="-7.30" y="3.40" width="2.1" height="2" fill="#f4f4f4"/><rect x="4.25" y="3.40" width="2.1" height="2" fill="#f4f4f4"/>
<rect x="-3.6" y="3.8" width="6.2" height="5.3" fill="#e6e6e6"/>
</g>
<g transform="translate(1216.7,550)"><ellipse cx="0" cy="0" rx="18.3" ry="17.3" fill="none" stroke="#000" stroke-width="3"/>
<rect x="-1.3" y="-13" width="1.3" height="7" fill="#111"/>
<path d="M-16.5,-0.6 L-5,-2.3 L5,-2.3 L15,-0.6 L15,1 L-16.5,1 Z" fill="#111"/>
<circle cx="-0.7" cy="0" r="5.8" fill="#111"/>
<circle cx="-12.4" cy="2.7" r="2.35" fill="#111"/>
<circle cx="9.6" cy="2.7" r="2.35" fill="#111"/>
<rect x="-3.4" y="-2.8" width="5" height="1.4" fill="#bbb"/>
</g>
<text x="99.70" y="602.7" class="cl" style="letter-spacing:0.320px" text-anchor="middle">F&amp;B</text>
<text x="173.40" y="602.7" class="cl" style="letter-spacing:0.107px" text-anchor="middle">Groceries</text>
<text x="248.40" y="602.7" class="cl" style="letter-spacing:-0.230px" text-anchor="middle">CVS</text>
<text x="321.00" y="593.7" class="cl" style="letter-spacing:0.076px" text-anchor="middle">E-commerce</text>
<text x="321.00" y="610.6" class="cl" style="letter-spacing:0.557px" text-anchor="middle">Purchases</text>
<text x="399.60" y="593.6" class="cl" style="letter-spacing:0.520px" text-anchor="middle">Bill</text>
<text x="400.20" y="610.6" class="cl" style="letter-spacing:0.563px" text-anchor="middle">Payments</text>
<text x="473.70" y="593.6" class="cl" style="letter-spacing:0.753px" text-anchor="middle">Food</text>
<text x="474.90" y="610.6" class="cl" style="letter-spacing:0.034px" text-anchor="middle">Delivery</text>
<text x="551.60" y="604" class="cl" style="letter-spacing:0.177px" text-anchor="middle">Parking*</text>
<text x="620.20" y="594.2" class="cl" style="letter-spacing:0.420px" text-anchor="middle">Mobile</text>
<text x="619.50" y="611.8" class="cl" style="letter-spacing:0.537px" text-anchor="middle">reloads</text>
<text x="698.50" y="602.9" class="cl" style="letter-spacing:0.280px" text-anchor="middle">Petrol</text>
<text x="768.80" y="605.4" class="cl" style="letter-spacing:0.387px" text-anchor="middle">Toll</text>
<text x="845.90" y="602.9" class="cl" style="letter-spacing:0.034px" text-anchor="middle">Services</text>
<text x="919.10" y="594.8" class="cl" style="letter-spacing:-0.047px" text-anchor="middle">Transport-</text>
<text x="918.50" y="610.7" class="cl" style="letter-spacing:0.145px" text-anchor="middle">ation</text>
<text x="994.60" y="593.9" class="cl" style="letter-spacing:0.720px" text-anchor="middle">Movie</text>
<text x="995.10" y="610.9" class="cl" style="letter-spacing:-0.130px" text-anchor="middle">Tickets</text>
<text x="1070.30" y="602.9" class="cl" style="letter-spacing:0.120px" text-anchor="middle">Gaming</text>
<text x="1144.80" y="602.9" class="cl" style="letter-spacing:0.240px" text-anchor="middle">Hotels</text>
<text x="1215.90" y="593.6" class="cl" style="letter-spacing:0.480px" text-anchor="middle">Flight</text>
<text x="1215.80" y="610.5" class="cl" style="letter-spacing:-0.197px" text-anchor="middle">Tickets</text>
<g>
<circle cx="83.1" cy="674" r="13.5" fill="none" stroke="#0E4C92" stroke-width="4.7"/>
<circle cx="54.6" cy="674" r="13.5" fill="none" stroke="#29A3DD" stroke-width="4.7"/>
<path d="M69.6,674.4 A13.5,13.5 0 0 0 83.1,687.5" fill="none" stroke="#0E4C92" stroke-width="4.7"/>
<line x1="66.5" y1="674.2" x2="72.5" y2="674.2" stroke="#F2F2F2" stroke-width="0.7"/>
<text x="22" y="712.3" font-size="20.5" font-weight="bold" letter-spacing="-0.35" fill="#0E4C92" stroke="#0E4C92" stroke-width="0.5">OPPO<tspan fill="#29A3DD" stroke="#29A3DD">TUS</tspan></text>
</g>
<text x="148.7" y="693.9" font-size="13" font-style="italic" letter-spacing="0.25" fill="#595959">*Added 2Q2024</text>
<text x="149" y="711.5" font-size="13" font-style="italic" letter-spacing="0.16" fill="#595959">Source: Oppotus 4Q2024</text>
<rect x="1227.8" y="665" width="52.2" height="55" fill="#00B0F0"/>
<text x="1256" y="701.9" font-size="16" fill="#fff" text-anchor="middle">15</text>
</svg>
</body></html>
